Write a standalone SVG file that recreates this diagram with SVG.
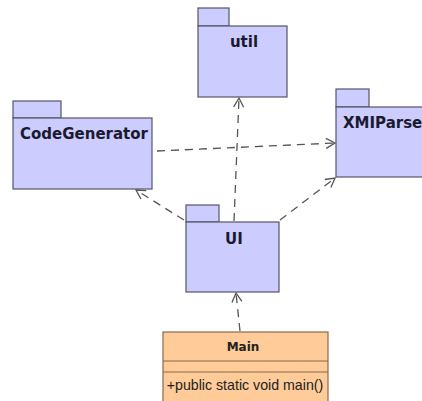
<svg xmlns="http://www.w3.org/2000/svg" width="422" height="401" viewBox="0 0 422 401">
<style>
.pkg{fill:#ccccff;stroke:#555566;stroke-width:1.2}
.lbl{font-family:"DejaVu Sans","Liberation Sans",sans-serif;font-weight:bold;font-size:15px;fill:#1a1a2e}
.cls{fill:#ffcc99;stroke:#8a6a4a;stroke-width:1.2}
.dep{fill:none;stroke:#555;stroke-width:1.3;stroke-dasharray:8 6}
.head{fill:none;stroke:#555;stroke-width:1.3}
</style>
<defs>
<marker id="arr" markerWidth="12" markerHeight="12" refX="10" refY="6" orient="auto" markerUnits="userSpaceOnUse">
<path d="M1,1 L10,6 L1,11" class="head"/>
</marker>
</defs>
<rect width="422" height="401" fill="#ffffff"/>
<g id="connectors">
<path class="dep" d="M157,151 L335,143" marker-end="url(#arr)"/>
<path class="dep" d="M234,221 L239,98" marker-end="url(#arr)"/>
<path class="dep" d="M184,220 L136,190" marker-end="url(#arr)"/>
<path class="dep" d="M280,220 L335,178" marker-end="url(#arr)"/>
<path class="dep" d="M240,331 L236,293" marker-end="url(#arr)"/>
</g>
<g id="util">
<rect class="pkg" x="198" y="8" width="31" height="18"/>
<rect class="pkg" x="198" y="26" width="89" height="71"/>
<text class="lbl" x="244" y="47" text-anchor="middle">util</text>
</g>
<g id="CodeGenerator">
<rect class="pkg" x="13" y="101" width="48" height="17"/>
<rect class="pkg" x="13" y="118" width="139" height="71"/>
<text class="lbl" x="84" y="139" text-anchor="middle">CodeGenerator</text>
</g>
<g id="XMIParser">
<rect class="pkg" x="336" y="89" width="33" height="18"/>
<rect class="pkg" x="336" y="107" width="100" height="70"/>
<text class="lbl" x="343" y="128">XMIParser</text>
</g>
<g id="UI">
<rect class="pkg" x="186" y="205" width="33" height="17"/>
<rect class="pkg" x="186" y="222" width="93" height="70"/>
<text class="lbl" x="234" y="244" text-anchor="middle">UI</text>
</g>
<g id="Main">
<rect class="cls" x="163" y="332" width="165" height="70"/>
<line x1="163" y1="361" x2="328" y2="361" stroke="#8a6a4a" stroke-width="1.2"/>
<line x1="163" y1="372" x2="328" y2="372" stroke="#8a6a4a" stroke-width="1.2"/>
<text x="243" y="351" text-anchor="middle" font-family="DejaVu Sans,Liberation Sans,sans-serif" font-weight="bold" font-size="12" fill="#222">Main</text>
<text x="245" y="390" text-anchor="middle" font-family="Liberation Sans,Arial,sans-serif" font-size="14.2" fill="#222">+public static void main()</text>
</g>
</svg>
